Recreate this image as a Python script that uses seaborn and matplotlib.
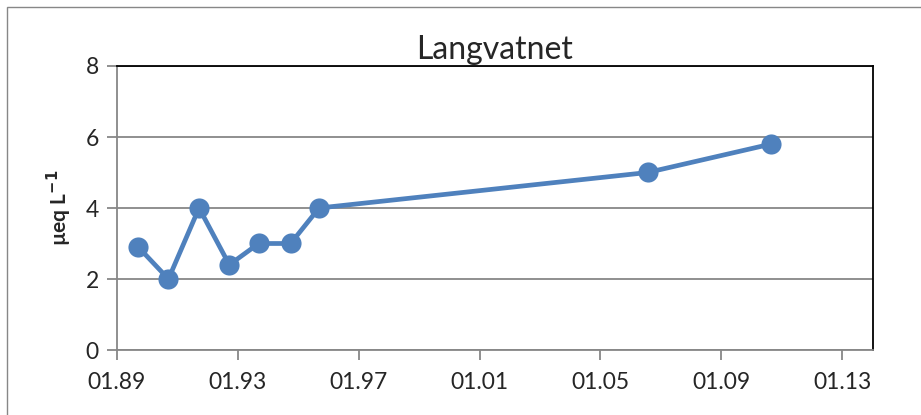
import pandas as pd
import matplotlib
matplotlib.use("Agg")
import matplotlib.pyplot as plt
import matplotlib.dates as mdates
from matplotlib.patches import Rectangle
import seaborn as sns

dates = ["1989-09-15", "1990-09-15", "1991-09-20", "1992-09-20", "1993-09-10",
         "1994-10-01", "1995-09-10", "2006-07-25", "2010-08-25"]
values = [2.9, 2.0, 4.0, 2.4, 3.0, 3.0, 4.0, 5.0, 5.8]

df = pd.DataFrame({"dato": pd.to_datetime(dates), "verdi": values})

sns.set_theme(style="white")
plt.rcParams['font.family'] = ['Lato', 'DejaVu Sans']

fig = plt.figure(figsize=(9.21, 4.15), dpi=100)
ax = fig.add_axes([117 / 921, 1 - 350 / 415, (873 - 117) / 921, (350 - 66) / 415])

sns.lineplot(data=df, x="dato", y="verdi", ax=ax, color="#4F81BD", linewidth=3.4,
             marker="o", markersize=14.5, markeredgewidth=0)

ax.set_xlim(pd.Timestamp("1989-01-01"), pd.Timestamp("2014-01-10"))
ax.set_ylim(0, 8)
ax.set_yticks([0, 2, 4, 6, 8])
ax.set_xticks(pd.to_datetime(["1989-01-01", "1993-01-01", "1997-01-01", "2001-01-01",
                              "2005-01-01", "2009-01-01", "2013-01-01"]))
ax.xaxis.set_major_formatter(mdates.DateFormatter("%m.%y"))
ax.yaxis.grid(True, color="#878787", linewidth=1.3)
ax.set_axisbelow(True)
ax.tick_params(axis="both", which="major", labelsize=16.5, length=7, width=1.3,
               color="#878787", direction="out", left=True, bottom=True)
ax.tick_params(axis="x", pad=9)
ax.tick_params(axis="y", pad=6)
for s in ["left", "bottom"]:
    ax.spines[s].set_color("#878787")
    ax.spines[s].set_linewidth(1.3)
for s in ["top", "right"]:
    ax.spines[s].set_color("black")
    ax.spines[s].set_linewidth(1.3)

ax.set_xlabel("")
ax.set_ylabel("µeq L$^{\\mathbf{-1}}$", fontsize=15, fontweight="bold", labelpad=8)
ax.set_title("Langvatnet", fontsize=23, pad=5)

fig.patches.append(Rectangle((7 / 921, -0.05), 920 / 921, 1 - 7 / 415 + 0.05,
                             transform=fig.transFigure, fill=False,
                             edgecolor="#878787", linewidth=1))

fig.savefig("out.png", dpi=100)
